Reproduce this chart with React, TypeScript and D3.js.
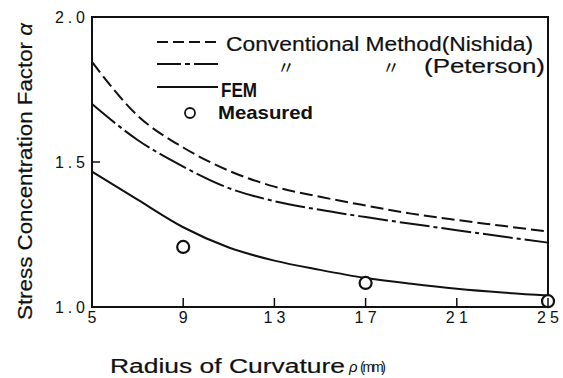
import * as d3 from "d3"

// radius of curvature (mm) where the curves were read
const rho = [5, 7, 9, 11, 13, 15, 17, 19, 21, 23, 25]
// conventional method (Nishida) — dashed
const nishida = [1.845, 1.66, 1.55, 1.47, 1.415, 1.38, 1.35, 1.322, 1.3, 1.28, 1.26]
// conventional method (Peterson) — dash-dot
const peterson = [1.7, 1.576, 1.484, 1.41, 1.365, 1.335, 1.31, 1.287, 1.265, 1.243, 1.222]
// FEM — solid
const fem = [1.467, 1.37, 1.275, 1.205, 1.16, 1.128, 1.1, 1.08, 1.063, 1.05, 1.04]
// measured points
const measuredRho = [9, 17, 25]
const measured = [1.207, 1.083, 1.02]

const xTicks = [5, 9, 13, 17, 21, 25]
const yTicks = [1.0, 1.5, 2.0]

const W = 563
const H = 378
const LEFT = 92
const RIGHT = 548
const TOP = 17
const BOTTOM = 307

const FONT = "'Liberation Sans', sans-serif"
const INK = "#111"
// scanned type is a bit heavier than Liberation regular
const thick = { stroke: INK, strokeWidth: 0.2 }

export default function App() {
  const x = d3.scaleLinear().domain([5, 25]).range([LEFT, RIGHT])
  const y = d3.scaleLinear().domain([1.0, 2.0]).range([BOTTOM, TOP])

  const line = (vals: number[]) =>
    d3
      .line<number>()
      .x((_, i) => x(rho[i]))
      .y((d) => y(d))
      .curve(d3.curveMonotoneX)(vals) ?? ""

  const legendX0 = 157
  const legendX1 = 218

  return (
    <svg
      width={W}
      height={H}
      viewBox={`0 0 ${W} ${H}`}
      style={{ position: "absolute", left: 0, top: 0, background: "#fff" }}
      fontFamily={FONT}
    >
      {/* curves */}
      <path d={line(nishida)} fill="none" stroke={INK} strokeWidth={2} strokeDasharray="13,5" />
      <path d={line(peterson)} fill="none" stroke={INK} strokeWidth={2} strokeDasharray="30,4,4,4" />
      <path d={line(fem)} fill="none" stroke={INK} strokeWidth={2} />

      {/* frame */}
      <rect
        x={LEFT}
        y={TOP}
        width={RIGHT - LEFT}
        height={BOTTOM - TOP}
        fill="none"
        stroke={INK}
        strokeWidth={2}
      />

      {/* measured circles */}
      {measuredRho.map((r, i) => (
        <circle
          key={r}
          cx={x(r)}
          cy={y(measured[i])}
          r={6}
          fill="#fff"
          stroke={INK}
          strokeWidth={2.2}
        />
      ))}

      {/* x ticks, inward */}
      {xTicks.map((t) => (
        <g key={t}>
          <line x1={x(t)} x2={x(t)} y1={BOTTOM} y2={BOTTOM - 9} stroke={INK} strokeWidth={1.5} />
          <text
            x={x(t)}
            y={323}
            textAnchor="middle"
            fontSize={16}
            fill={INK}
            textLength={String(t).length > 1 ? 22 : undefined}
          >
            {t}
          </text>
        </g>
      ))}

      {/* y ticks, inward */}
      {yTicks.map((t) => (
        <g key={t}>
          <line x1={LEFT} x2={LEFT + 8} y1={y(t)} y2={y(t)} stroke={INK} strokeWidth={1.5} />
          <text x={55} y={y(t) + 6} fontSize={16} fill={INK} textLength={30}>
            {t.toFixed(1)}
          </text>
        </g>
      ))}

      {/* legend */}
      <line x1={legendX0} x2={legendX1} y1={42} y2={42} stroke={INK} strokeWidth={2} strokeDasharray="11,5" />
      <text x={226} y={51} fontSize={20} fill={INK} {...thick} textLength={307} lengthAdjust="spacingAndGlyphs">
        Conventional Method(Nishida)
      </text>

      <line x1={legendX0} x2={legendX1} y1={64} y2={64} stroke={INK} strokeWidth={2} strokeDasharray="24,4,5,4" />
      <text x={286} y={74} fontSize={18} fill={INK} textAnchor="middle" fontFamily="'Noto Sans CJK JP', sans-serif">
        〃
      </text>
      <text x={391} y={74} fontSize={18} fill={INK} textAnchor="middle" fontFamily="'Noto Sans CJK JP', sans-serif">
        〃
      </text>
      <text x={424} y={73} fontSize={20} fill={INK} {...thick} textLength={121} lengthAdjust="spacingAndGlyphs">
        (Peterson)
      </text>

      <line x1={legendX0} x2={legendX1} y1={87} y2={87} stroke={INK} strokeWidth={2} />
      <text x={221} y={97} fontSize={20} fontWeight="bold" fill={INK} textLength={36} lengthAdjust="spacingAndGlyphs">
        FEM
      </text>

      <circle cx={190} cy={113} r={5} fill="#fff" stroke={INK} strokeWidth={1.8} />
      <text x={218} y={119} fontSize={19} fontWeight="bold" fill={INK} textLength={95} lengthAdjust="spacingAndGlyphs">
        Measured
      </text>

      {/* axis titles */}
      <text x={110} y={373} fontSize={20} fill={INK} {...thick} textLength={235} lengthAdjust="spacingAndGlyphs">
        Radius of Curvature
      </text>
      <text x={349} y={372} fontSize={15} fontStyle="italic" fill={INK}>
        ρ
      </text>
      <text x={360} y={372} fontSize={14} fill={INK} textLength={26}>
        (mm)
      </text>

      <text
        transform={`translate(32,${(23 + 320) / 2}) rotate(-90)`}
        textAnchor="middle"
        fontSize={21}
        fill={INK}
        {...thick}
        textLength={297}
        lengthAdjust="spacingAndGlyphs"
      >
        Stress Concentration Factor <tspan fontStyle="italic">α</tspan>
      </text>
    </svg>
  )
}
